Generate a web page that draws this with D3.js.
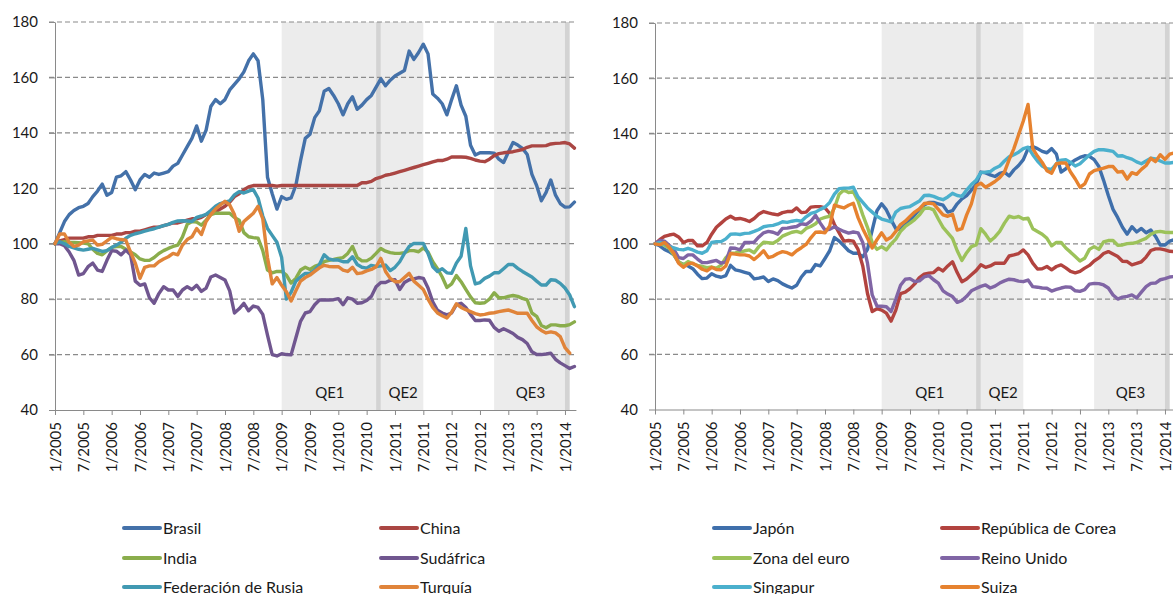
<!DOCTYPE html>
<html>
<head>
<meta charset="utf-8">
<script src="https://cdn.jsdelivr.net/npm/d3@7"></script>
<style>
  body { margin: 0; background: #fff; }
  svg { display: block; font-family: Lato, "Open Sans", sans-serif; }
</style>
</head>
<body>
<div id="chart"></div>
<script>
// Monthly index values, 1/2005 = 100 (Jan 2005 .. Mar 2014)
const tickMonths = [0, 6, 12, 18, 24, 30, 36, 42, 48, 54, 60, 66, 72, 78, 84, 90, 96, 102, 108];
const tickLabels = ['1/2005', '7/2005', '1/2006', '7/2006', '1/2007', '7/2007', '1/2008', '7/2008', '1/2009',
  '7/2009', '1/2010', '7/2010', '1/2011', '7/2011', '1/2012', '7/2012', '1/2013', '7/2013', '1/2014'];
const yTicks = [40, 60, 80, 100, 120, 140, 160, 180];

// QE periods (month index start/end) and the dark month marks
const qePeriods = [
  { label: 'QE1', start: 48, end: 68 },
  { label: 'QE2', start: 69, end: 78 },
  { label: 'QE3', start: 93, end: 108 }
];
const qeMarks = [68, 108];

// ---- left panel: emerging economies
const brasil = [
  100, 104, 108, 110.5, 112, 113, 113.5, 114.5, 117, 119,
  121.5, 117.5, 118.5, 124, 124.5, 126, 123, 119.5, 123, 125,
  124, 125.5, 125, 125.5, 126, 128, 129, 132, 135, 138,
  142.5, 137, 141, 149.5, 152, 150.5, 152, 155.5, 157.5, 159.5,
  162, 166, 168.5, 166, 152, 124, 118, 112.5, 117, 116,
  116.5, 121, 130, 138, 139.5, 145.5, 148, 155, 156, 153.5,
  150.5, 146.5, 150.5, 153, 148.5, 150, 152, 153.5, 156.5, 159.5,
  157, 159, 160.5, 161.5, 162.5, 169.5, 166.5, 169, 172, 168.5,
  154, 152.5, 150.5, 146.5, 152, 157, 150, 146, 135.5, 132,
  132.8, 132.8, 132.8, 132.7, 130.5, 129.3, 133, 136.5, 135.6, 134.4,
  132.2, 125, 121, 115.5, 118.5, 123, 117.5, 114.5, 113.2, 113.3,
  115
];
const china = [
  100, 101, 101.5, 102, 102, 102, 102, 102.5, 102.5, 103,
  103, 103, 103, 103.5, 103.5, 104, 104, 104.5, 104.5, 105,
  105.5, 106, 106, 106.5, 107, 107.5, 107.5, 108, 108.5, 109,
  109, 109.5, 110.5, 111, 111.5, 112.5, 113.5, 115, 117, 118,
  119.5, 120.5, 121, 121, 121, 121, 121, 120.8, 121, 121,
  121, 121, 121, 121, 121, 121, 121, 121, 121, 121,
  121, 121, 121, 121, 121, 122, 122, 122.5, 123.5, 124,
  124.7, 125, 125.5, 126, 126.5, 127, 127.5, 128, 128.5, 129,
  129.5, 130, 130, 130.5, 131.3, 131.3, 131.3, 131.2, 130.8, 130.2,
  129.8, 129.6, 130.5, 131.8, 132.5, 132.8, 133, 133.2, 133.6, 134,
  134.8, 135.3, 135.3, 135.3, 135.4, 136, 136.2, 136.3, 136.5, 136,
  134.5
];
const india = [
  100, 100.5, 100.7, 100.5, 100.5, 100.4, 100.2, 100, 98, 96.5,
  96, 97.5, 98.7, 99, 99, 98, 97, 96, 94.5, 94,
  94, 95, 96.5, 97.5, 98.3, 99, 99.5, 102.5, 107, 108,
  107.8, 106.7, 108.5, 110.5, 111, 111, 111, 111, 109.5, 108.5,
  104, 102.5, 102.2, 102, 97.5, 90.5, 89.5, 90, 90, 88.7,
  85.8, 87.5, 90.5, 91.5, 90.7, 91.8, 92.5, 93.5, 94, 94.3,
  94.7, 95, 96.5, 99, 95, 93.8, 93.8, 94.8, 96.5, 98.3,
  97.3, 96.8, 96.5, 96.5, 96.8, 97.5, 97.5, 97.1, 98.5, 97,
  93.5, 91, 88, 84.2, 85.5, 88.5, 86.3, 83.5, 80.8, 78.7,
  78.5, 78.7, 80, 82.3, 80.5, 80.5, 81, 81.3, 81, 80.3,
  79.7, 75, 73.8, 70.5, 69.7, 70.7, 70.7, 70.4, 70.4, 70.8,
  71.8
];
const sudafrica = [
  100, 100, 99.3, 97, 94, 88.7, 89.2, 91.7, 93, 90.5,
  90, 94, 97.5, 97.3, 96, 97.7, 96, 86.5, 85, 85.5,
  80.5, 78.5, 82, 84.5, 83.3, 83.3, 81, 83.3, 84.5, 83.5,
  85, 82.8, 84, 88, 88.7, 87.8, 86.9, 83, 75, 76.5,
  78.5, 75.8, 77.5, 77, 74.5, 67, 60, 59.5, 60.3, 60,
  59.9, 66, 72, 75, 75.5, 78, 79.7, 79.7, 79.7, 79.8,
  80.2, 78, 80.5, 80, 78.5, 78.7, 79.5, 81, 84.5, 86,
  86, 86.8, 87, 83.5, 86, 87, 87.3, 87.8, 87.5, 84,
  79, 76, 75, 74.3, 75, 78, 78.5, 77, 74.5, 72.3,
  72.3, 72.5, 72.4, 69.8, 68.4, 69.3, 68.5, 67.6, 66.2, 65.4,
  64, 61, 60, 60, 60.2, 60.5, 58.3, 57, 56, 55,
  55.7
];
const rusia = [
  100, 100.7, 100, 99, 98.5, 98, 97.7, 98, 98.3, 97.8,
  97.2, 97.5, 98.6, 99.5, 100.5, 102, 103, 103.6, 104, 104.5,
  105, 105.4, 106, 106.5, 107, 107.7, 108.2, 108.3, 108.2, 108,
  109.5, 110, 110.6, 112, 113.5, 114.5, 115, 115.5, 117.6, 118.8,
  118.3, 119, 119.5, 116.5, 110, 105.5, 103, 100.5, 95, 80,
  82.5, 86.5, 88, 89.3, 89.3, 90.5, 92.5, 96, 94.5, 94.1,
  94.1, 93.5, 93.5, 95.3, 92.5, 91.5, 91.2, 92.2, 91.8, 92,
  92.3, 90.3, 91.5, 93.5, 96.5, 99, 100.1, 100.1, 100.1, 96.5,
  91.7, 90, 91, 89.5, 89.3, 93, 95.5, 105.5, 92, 85.5,
  86, 87.5, 88.3, 89.5, 89.5, 91, 92.5, 92.5, 91.1, 90,
  89, 88, 86.5, 85.1, 85.1, 87, 86.8, 85.7, 84, 81.5,
  77.3
];
const turquia = [
  100, 103.5, 103.5, 100.5, 99, 99.5, 100.7, 101, 101.3, 99.5,
  99.8, 101, 102.3, 101.8, 101.5, 101.3, 97, 93, 87.5, 91.5,
  92, 92, 93.5, 94.5, 95.3, 96.5, 96, 99.5, 101.5, 102.5,
  105.5, 103.3, 108, 110.5, 112.5, 114, 115.3, 114, 110.5, 104.5,
  108, 109.5, 111, 113.5, 109, 95, 85.5, 87.8, 85, 82.7,
  79.3, 83, 86.5, 87.8, 88.7, 90, 91.3, 92.2, 91.8, 91.7,
  91.7, 90.5, 90, 91.5, 89.2, 89.5, 90.2, 90.7, 91.7, 94.7,
  90, 87.5, 86.3, 86.3, 87.8, 89.3, 86.5, 85, 83.5, 80,
  77, 75, 74, 73.2, 75.3, 78.3, 77, 76.2, 75.5, 74.8,
  74.3, 74.5, 74.9, 75.1, 75.5, 75.8, 76.1, 75.5, 74.9, 74.9,
  74.9, 72.3, 70, 68.7, 67.8, 68.2, 67.8, 66.5, 62.5, 60.5
];

// ---- right panel: advanced economies
const japon = [
  100, 99.3, 98, 97.2, 96, 93.3, 92.6, 92, 91, 89,
  87.4, 87.6, 89.2, 88.3, 87.9, 88.5, 92.2, 90.6, 90.2, 89.7,
  89.2, 87.3, 87.6, 88, 86.4, 87.3, 86.7, 85.5, 84.7, 84,
  85, 88, 90, 90, 92.5, 92, 94.7, 97.5, 102.3, 101,
  99.3, 97.5, 96.6, 96.6, 95.3, 98, 105, 112, 114.5, 112.3,
  108.7, 105.5, 105.2, 106.9, 108.5, 110.5, 112.5, 114.1, 115, 115,
  114.5, 114, 111.5, 112, 114.5, 116.3, 117.5, 119.5, 121.5, 126,
  125.7, 125, 124.4, 125.5, 126, 124.6, 126.8, 128.4, 130.5, 134.5,
  135.2, 134.5, 133.5, 133, 134.5, 132.5, 126, 127.2, 129.2, 130.4,
  131.3, 131.9, 131.7, 130.5, 128, 123, 117.5, 112.5, 109.5, 106,
  103.5, 106.2, 104.3, 105.6, 104, 105, 102.7, 99.6, 99.6, 101,
  101.5
];
const corea = [
  100, 101.5, 102.7, 103.2, 103.5, 102.5, 100.5, 101.2, 101.2, 99.3,
  99.3, 100.5, 103.5, 106, 107.5, 109, 110, 109, 109.2, 108.8,
  108.1, 109.2, 110.8, 111.7, 111.2, 110.8, 110.5, 111.3, 111.7, 111.7,
  113, 111.3, 111.5, 113.3, 113.5, 113.5, 113, 111, 107, 104,
  101, 101.2, 101, 98, 92, 82, 75.5, 76.5, 76, 74.9,
  72, 76, 82, 82.5, 83.8, 85.5, 87.8, 89, 89.4, 89.6,
  91.2, 90.2, 92, 93.5, 89.6, 86.3, 87.3, 88.8, 90.3, 92.4,
  91.5, 92, 93, 93, 93, 95.6, 96, 96.5, 97.8, 96,
  93, 90.9, 91, 91.8, 90.6, 91.8, 92.4, 91.3, 90, 89.5,
  90, 91.2, 92.2, 93.8, 94.9, 96.5, 97.2, 96.3, 95.4, 93.7,
  93.6, 92.4, 92.9, 93.5, 95.2, 97.6, 98.2, 98.2, 97.8, 97.3,
  97.2
];
const zonaEuro = [
  100, 100, 99.5, 98.4, 96, 93.5, 92.4, 93.6, 92.8, 92.2,
  91.8, 91.4, 91.6, 91.2, 92.3, 95, 96.6, 96.7, 97, 97.5,
  97.8, 96.8, 99, 100.6, 100.4, 100.2, 101.2, 102.8, 103.5, 104.2,
  104.5, 104, 105.6, 106.3, 107.3, 109, 109.6, 110, 113, 118,
  119.5, 118.6, 118.9, 115.5, 110.5, 106, 100.5, 98, 99, 97.8,
  100, 101.7, 104.5, 106.3, 107.5, 108.8, 110.5, 112.8, 113, 112.3,
  109, 106, 104, 102, 97.5, 94, 96.8, 99, 99.6, 105.5,
  103.5, 101, 102.5, 104.5, 107.5, 110, 109.5, 109.9, 109, 109.3,
  105.5, 104.5, 103.5, 102, 99.3, 100.5, 100.5, 98.5, 97, 95.4,
  93.8, 94.8, 98, 99, 98, 100.7, 101.2, 101.2, 99.5, 99.6,
  100.1, 100.2, 100.5, 101.3, 102, 103.5, 104.3, 104.5, 104.2, 104.1,
  104.1
];
const reinoUnido = [
  100, 101.2, 101, 99.5, 98, 95, 94.7, 96, 96, 94.5,
  93.2, 93.2, 93.6, 94, 93, 93.5, 98.5, 98.4, 97.8, 100.5,
  100.5, 100.6, 102.5, 104, 104.5, 104.2, 103.5, 105.6, 105.7, 106,
  106.3, 107.3, 107, 108.2, 110.3, 107.5, 105, 105.3, 106.2, 105.3,
  104.5, 103.9, 104.3, 104, 100.5, 93, 81.5, 77.5, 77.4, 77.2,
  75.5, 80, 85, 87.2, 87.4, 86.3, 86.6, 88, 88.5, 87,
  85.8, 83, 81.8, 80.9, 78.8, 79.5, 81, 83, 83.8, 84.6,
  85.1, 84, 84.7, 85.8, 86.6, 87.2, 87, 86.5, 86.3, 86.9,
  84.5, 84.3, 84, 83.9, 82.9, 83.5, 84, 84.4, 84.3, 83,
  82.8, 83.4, 85.4, 85.7, 85.6, 85.1, 84, 81.5, 80, 80.7,
  81, 81.5, 80.4, 82.5, 84.5, 85.7, 85.8, 87, 87.4, 88,
  88.2
];
const singapur = [
  100, 100.5, 100, 99, 98.5, 98, 97.8, 98.4, 97.8, 97,
  96.6, 97.5, 100.5, 100.8, 100.8, 101.8, 103.5, 103.6, 103.4, 103.8,
  103.9, 104.5, 105.2, 106.2, 106.5, 106.7, 107.2, 108, 107.8, 108.2,
  108.5, 108.2, 109.8, 111, 111.5, 112.5, 113.3, 115, 118, 120,
  120.2, 120.2, 120.5, 117, 115, 113, 111.5, 110, 109, 108.5,
  108, 111.5, 112.8, 113.2, 113.5, 114.5, 115.5, 117.5, 117.6, 117.2,
  116.5, 116, 117, 118.3, 117.5, 117.2, 119.5, 121.5, 123, 125.8,
  126, 126.2, 127.4, 128.2, 130, 131.5, 132.3, 133.2, 134.5, 135,
  132.3, 130, 128.2, 127.2, 127, 129, 130.3, 130.5, 129.5, 128.2,
  129, 130.6, 132.2, 133.5, 134.1, 134.1, 133.8, 133.5, 131.8, 131.9,
  131.2, 130.7, 129.7, 129, 130, 131, 130.8, 130, 129.3, 129.3,
  129.5
];
const suiza = [
  100, 99.7, 100.5, 98.8, 96.5, 93, 91.5, 92.8, 93, 92,
  90.8, 90.2, 91.5, 90.7, 90.6, 92, 96.5, 96.3, 96, 96,
  95.6, 94.3, 95.8, 97.5, 95, 95.5, 96.5, 97.2, 96.8, 96,
  97.5, 98.6, 99.8, 102.2, 104.2, 104.3, 104, 106.5, 114, 113.5,
  113, 114, 114.7, 109.5, 105.5, 102, 98.5, 101.5, 104, 101.4,
  102.4, 104.5, 107, 108.2, 109.9, 111.5, 112.7, 114.6, 114.8, 114.5,
  112.5, 110.5, 110, 110.7, 105, 105.5, 110.5, 114.5, 121, 122,
  120.5, 121.5, 122.6, 124, 126, 130.5, 134.5, 139.5, 144.5, 150.5,
  134.5, 131.8, 129.5, 126.5, 125.6, 129, 129.3, 129.3, 126, 123.5,
  120.5, 121.7, 125.3, 126.5, 127, 127.4, 128, 128, 126, 126.2,
  123.5, 125.8, 125.2, 127, 128.4, 131, 129.8, 132.3, 130.6, 132.5,
  133
];

const leftSeries = [
  { name: 'Brasil', values: brasil, color: '#4471A9' },
  { name: 'China', values: china, color: '#AA4643' },
  { name: 'India', values: india, color: '#8AAD4C' },
  { name: 'Sudáfrica', values: sudafrica, color: '#70568F' },
  { name: 'Federación de Rusia', values: rusia, color: '#4199B2' },
  { name: 'Turquía', values: turquia, color: '#E0843A' }
];
const rightSeries = [
  { name: 'Japón', values: japon, color: '#3F6FAB' },
  { name: 'República de Corea', values: corea, color: '#B2433F' },
  { name: 'Zona del euro', values: zonaEuro, color: '#9CC25A' },
  { name: 'Reino Unido', values: reinoUnido, color: '#8065A5' },
  { name: 'Singapur', values: singapur, color: '#4BB0CD' },
  { name: 'Suiza', values: suiza, color: '#E6822F' }
];

const svgWidth = 1173;
const svgHeight = 594;
const monthPx = 4.722;

const svg = d3.select('#chart')
  .append('svg')
  .attr('width', svgWidth)
  .attr('height', svgHeight);

function drawPanel(cfg) {
  const g = svg.append('g');

  const xScale = d3.scaleLinear()
    .domain([0, 110])
    .range([cfg.left, cfg.left + 110 * monthPx]);
  const yScale = d3.scaleLinear()
    .domain([40, 180])
    .range([cfg.bottom, cfg.top]);
  const plotRight = xScale(110) + 2;

  // QE shading
  g.selectAll('.qe')
    .data(qePeriods)
    .enter()
    .append('rect')
    .attr('x', d => xScale(d.start))
    .attr('width', d => xScale(d.end) - xScale(d.start))
    .attr('y', cfg.top)
    .attr('height', cfg.bottom - cfg.top)
    .attr('fill', '#ececec');

  g.selectAll('.qe-mark')
    .data(qeMarks)
    .enter()
    .append('rect')
    .attr('x', d => xScale(d))
    .attr('width', d => xScale(d + 1) - xScale(d))
    .attr('y', cfg.top)
    .attr('height', cfg.bottom - cfg.top)
    .attr('fill', '#d3d3d3');

  // dashed gridlines
  g.selectAll('.grid')
    .data(yTicks.filter(v => v > 40))
    .enter()
    .append('line')
    .attr('x1', cfg.left - 6)
    .attr('x2', plotRight)
    .attr('y1', d => yScale(d))
    .attr('y2', d => yScale(d))
    .attr('stroke', '#8a8a8a')
    .attr('stroke-width', 1.2)
    .attr('stroke-dasharray', '5,3');

  // y axis
  const yAxis = g.append('g')
    .attr('transform', `translate(${cfg.left},0)`)
    .call(d3.axisLeft(yScale).tickValues(yTicks).tickSize(6).tickPadding(11).tickSizeOuter(0));
  yAxis.select('.domain').attr('stroke', '#8a8a8a');
  yAxis.selectAll('.tick line').attr('stroke', '#8a8a8a');
  yAxis.selectAll('text').attr('font-size', 15).attr('fill', '#1a1a1a').attr('font-family', 'Lato');

  // x axis
  const xAxis = g.append('g')
    .attr('transform', `translate(0,${cfg.bottom})`)
    .call(d3.axisBottom(xScale).tickValues(tickMonths)
      .tickFormat((d, i) => tickLabels[i]).tickSize(5).tickSizeOuter(0));
  xAxis.select('.domain').attr('d', `M${cfg.left},0.5H${plotRight}`).attr('stroke', '#8a8a8a');
  xAxis.selectAll('.tick line').attr('stroke', '#8a8a8a');
  xAxis.selectAll('text')
    .attr('font-size', 15)
    .attr('fill', '#1a1a1a')
    .attr('font-family', 'Lato')
    .attr('transform', 'rotate(-90)')
    .attr('text-anchor', 'end')
    .attr('x', -12)
    .attr('y', 0)
    .attr('dy', '0.35em');

  // QE labels
  g.selectAll('.qe-label')
    .data(qePeriods)
    .enter()
    .append('text')
    .attr('x', d => xScale((d.start + d.end) / 2) + 1)
    .attr('y', cfg.bottom - 12)
    .attr('text-anchor', 'middle')
    .attr('font-size', 15)
    .attr('fill', '#1a1a1a')
    .text(d => d.label);

  // lines
  const line = d3.line()
    .x((d, i) => xScale(i))
    .y(d => yScale(d));

  g.selectAll('.series')
    .data(cfg.series)
    .enter()
    .append('path')
    .attr('d', d => line(d.values))
    .attr('fill', 'none')
    .attr('stroke', d => d.color)
    .attr('stroke-width', 3.4)
    .attr('stroke-linejoin', 'round')
    .attr('stroke-linecap', 'round');

  // legend, two columns x three rows
  const legendRows = [528, 558, 587];
  const leg = g.selectAll('.legend')
    .data(cfg.series)
    .enter()
    .append('g')
    .attr('transform', (d, i) => `translate(${cfg.legendX[i % 2]},${legendRows[Math.floor(i / 2)]})`);
  leg.append('line')
    .attr('x1', 0).attr('x2', 36)
    .attr('stroke', d => d.color)
    .attr('stroke-width', 4)
    .attr('stroke-linecap', 'round');
  leg.append('text')
    .attr('x', 39)
    .attr('dy', '0.35em')
    .attr('font-size', 16)
    .attr('fill', '#1a1a1a')
    .text(d => d.name);
}

drawPanel({ left: 55, top: 22, bottom: 410, series: leftSeries, legendX: [124, 381] });
drawPanel({ left: 655, top: 23, bottom: 409.5, series: rightSeries, legendX: [714, 942] });
</script>
</body>
</html>
